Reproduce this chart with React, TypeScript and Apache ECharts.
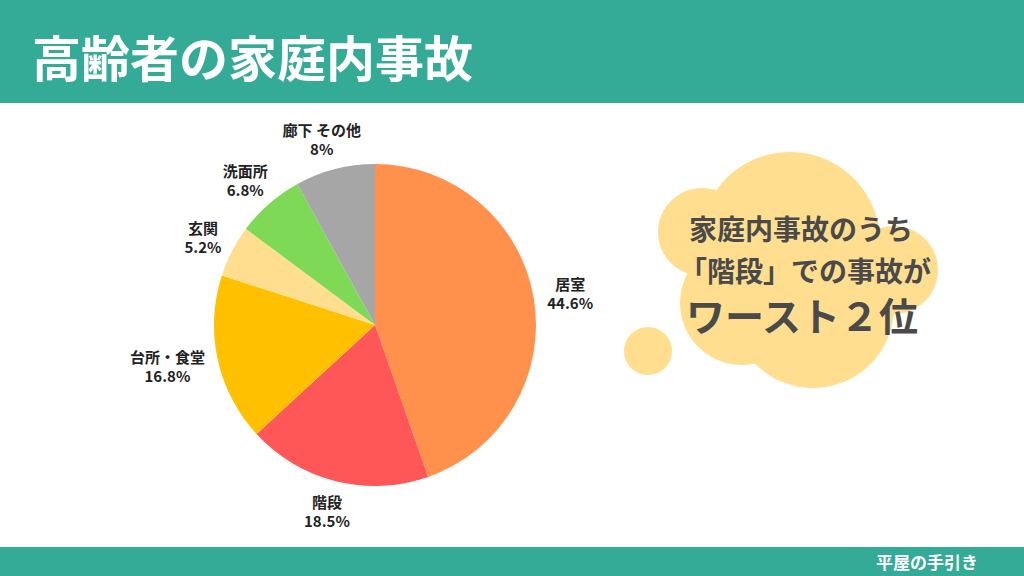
import React, { useEffect, useRef } from "react";
import * as echarts from "echarts";

const categories = ["居室", "階段", "台所・食堂", "玄関", "洗面所", "廊下 その他"];
const values = [44.6, 18.5, 16.8, 5.2, 6.8, 8];
const colors = ["#FF914D", "#FF5757", "#FFC000", "#FFDE8F", "#7ED957", "#A6A6A6"];
const titleText = "高齢者の家庭内事故";
const footerText = "平屋の手引き";
const bubbleLines = ["家庭内事故のうち", "「階段」での事故が", "ワースト２位"];

const TEAL = "#34AB96";
const CLOUD = "#FFDE8F";
const FONT = "'Noto Sans CJK JP', 'Noto Sans', sans-serif";

const CX = 375;
const CY = 325;
const R = 161;
const GAP = 14;

export default function App() {
  const ref = useRef<HTMLDivElement>(null);
  useEffect(() => {
    if (!ref.current) return;
    const chart = echarts.init(ref.current, undefined, { renderer: "svg" });
    const total = values.reduce((a, b) => a + b, 0);
    const mids: number[] = [];
    let acc = 0;
    values.forEach((v) => {
      mids.push(((acc + v / 2) / total) * Math.PI * 2);
      acc += v;
    });
    const cloudCircles = [
      [790, 242, 90],
      [702, 232, 44],
      [894, 270, 44],
      [813, 307, 81],
      [742, 303, 62],
      [800, 275, 85],
    ];
    chart.setOption({
      animation: false,
      backgroundColor: "#ffffff",
      graphic: [
        { type: "rect", shape: { x: 0, y: 0, width: 1024, height: 103 }, style: { fill: TEAL }, z: 0 },
        { type: "rect", shape: { x: 0, y: 547, width: 1024, height: 29 }, style: { fill: TEAL }, z: 0 },
        {
          type: "text", x: 32, y: 55,
          style: { text: titleText, fill: "#ffffff", font: `bold 49px ${FONT}`, textVerticalAlign: "middle" },
        },
        {
          type: "text", x: 978, y: 561,
          style: { text: footerText, fill: "#ffffff", font: `bold 17px ${FONT}`, textAlign: "right", textVerticalAlign: "middle" },
        },
        ...cloudCircles.map((c) => ({
          type: "circle", shape: { cx: c[0], cy: c[1], r: c[2] }, style: { fill: CLOUD }, z: 1,
        })),
        { type: "circle", shape: { cx: 648, cy: 351, r: 24 }, style: { fill: CLOUD }, z: 1 },
        {
          type: "text", x: 801, y: 228, z: 2,
          style: { text: bubbleLines[0], fill: "#4a4a4a", font: `bold 28px ${FONT}`, textAlign: "center", textVerticalAlign: "middle" },
        },
        {
          type: "text", x: 805, y: 270, z: 2,
          style: { text: bubbleLines[1], fill: "#4a4a4a", font: `bold 28px ${FONT}`, textAlign: "center", textVerticalAlign: "middle" },
        },
        {
          type: "text", x: 802, y: 314, z: 2,
          style: { text: bubbleLines[2], fill: "#4a4a4a", font: `bold 39px ${FONT}`, textAlign: "center", textVerticalAlign: "middle" },
        },
      ],
      series: [
        {
          type: "pie",
          center: [CX, CY],
          radius: [0, R],
          startAngle: 90,
          clockwise: true,
          avoidLabelOverlap: false,
          itemStyle: { borderWidth: 0 },
          label: {
            show: true,
            position: "outside",
            formatter: "{a|{b}}\n{a|{c}%}",
            rich: {
              a: { align: "center", fontFamily: FONT, fontWeight: "bold", fontSize: 15, color: "#222", lineHeight: 19 },
            },
          },
          labelLine: { show: false, length: 20, length2: 0 },
          labelLayout: (params: any) => {
            const th = mids[params.dataIndex];
            const dx = Math.sin(th);
            const dy = -Math.cos(th);
            const hw = params.labelRect.width / 2;
            const hh = params.labelRect.height / 2;
            return {
              x: CX + dx * (R + GAP) + hw * dx,
              y: CY + dy * (R + GAP) + hh * dy,
              align: "center",
              verticalAlign: "middle",
            };
          },
          emphasis: { disabled: true },
          data: categories.map((name, i) => ({ name, value: values[i], itemStyle: { color: colors[i] } })),
        },
      ],
    });
    return () => chart.dispose();
  }, []);
  return <div ref={ref} style={{ width: 1024, height: 576, position: "absolute", left: 0, top: 0 }} />;
}
